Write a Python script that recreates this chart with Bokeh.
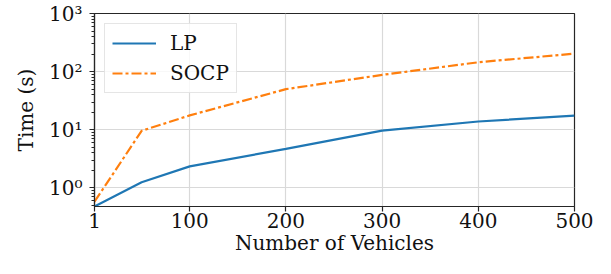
from bokeh.plotting import figure
from bokeh.models import FixedTicker, Legend, LegendItem, Range1d
from bokeh.embed import file_html
from bokeh.resources import INLINE

vehicles = [1, 50, 100, 200, 300, 400, 500]
lp_time = [0.48, 1.25, 2.35, 4.7, 9.7, 13.9, 17.5]
socp_time = [0.58, 9.6, 17.7, 50, 88, 145, 204]
x_ticks = [1, 100, 200, 300, 400, 500]
y_ticks = [1, 10, 100, 1000]
y_labels = {1: "10⁰", 10: "10¹", 100: "10²", 1000: "10³"}

FONT = "'DejaVu Serif', serif"
FS = "20px"

p = figure(width=595, height=258, y_axis_type="log", output_backend="svg",
           toolbar_location=None,
           x_range=Range1d(1, 500), y_range=Range1d(0.48, 1000),
           min_border_left=94, min_border_right=21, min_border_top=13,
           min_border_bottom=52)

r1 = p.line(vehicles, lp_time, line_color="#1f77b4", line_width=2.2)
r2 = p.line(vehicles, socp_time, line_color="#ff7f0e", line_width=2.2,
            line_dash="10 3 3 3")

minor = [m * 10 ** k for k in range(-1, 3) for m in range(2, 10)]
p.yaxis.ticker = FixedTicker(ticks=y_ticks, minor_ticks=minor)
p.yaxis.major_label_overrides = y_labels
p.xaxis.ticker = FixedTicker(ticks=x_ticks)

for ax in (p.xaxis[0], p.yaxis[0]):
    ax.major_label_text_font = FONT
    ax.major_label_text_font_size = FS
    ax.major_label_text_color = "#111111"
    ax.axis_label_text_font = FONT
    ax.axis_label_text_font_size = FS
    ax.axis_label_text_font_style = "normal"
    ax.axis_label_text_color = "#111111"
    ax.axis_line_color = "#262626"
    ax.axis_line_width = 1.2
    ax.major_tick_line_color = "#262626"
    ax.major_tick_line_width = 1.2
    ax.minor_tick_line_color = "#262626"
    ax.major_tick_out = 5
    ax.major_tick_in = 0
    ax.minor_tick_out = 3
    ax.minor_tick_in = 0

p.xaxis.minor_tick_line_color = None
p.xaxis.axis_label = "Number of Vehicles"
p.yaxis.axis_label = "Time (s)"
p.xaxis.major_label_standoff = 1
p.xaxis.axis_label_standoff = 0
p.yaxis.major_label_standoff = 7
p.yaxis.axis_label_standoff = 8

p.xgrid.grid_line_color = "#d9d9d9"
p.ygrid.grid_line_color = "#d9d9d9"
p.xgrid.grid_line_width = 1.2
p.ygrid.grid_line_width = 1.2

p.outline_line_color = "#262626"
p.outline_line_width = 1.2

legend = Legend(items=[LegendItem(label="LP", renderers=[r1]),
                       LegendItem(label="SOCP", renderers=[r2])],
                location="top_left")
legend.label_text_font = FONT
legend.label_text_font_size = FS
legend.label_text_color = "#111111"
legend.glyph_width = 44
legend.glyph_height = 22
legend.label_height = 22
legend.label_standoff = 14
legend.spacing = 6
legend.padding = 7
legend.margin = 10
legend.border_line_color = "#cccccc"
legend.border_line_width = 1.2
legend.background_fill_alpha = 0.8
p.add_layout(legend)

open("out.html", "w").write(file_html(p, INLINE))
